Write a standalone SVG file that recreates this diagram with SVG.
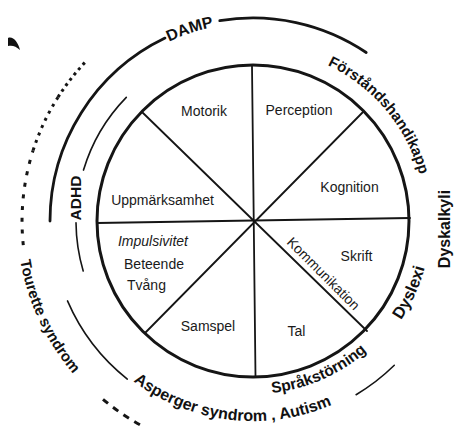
<svg xmlns="http://www.w3.org/2000/svg" xmlns:xlink="http://www.w3.org/1999/xlink" width="457" height="428" viewBox="0 0 457 428">
<style>
.ln{fill:none;stroke:#151515;stroke-linecap:round}
.main{stroke-width:3}
.spoke{stroke-width:1.8}
.outer{stroke-width:2.8}
.thin{stroke-width:1.6}
.dots{stroke-width:3;stroke-linecap:butt}
.in{font-family:"Liberation Sans",Arial,sans-serif;font-size:14px;fill:#1a1a1a;text-anchor:middle}
.lab{font-family:"Liberation Sans",Arial,sans-serif;font-weight:bold;fill:#111;text-anchor:middle}
</style>
<defs>
<path id="p-damp" d="M130.3,65.6 A198,198 0 0 1 258.9,23.1"/>
<path id="p-forst" d="M268.1,48.7 A173,173 0 0 1 425.3,236.1"/>
<path id="p-tour" d="M17.9,200.4 A236,236 0 0 0 117.6,414.3"/>
<path id="p-asp" d="M79.8,321 A200,200 0 0 0 398.1,358.7"/>
<path id="p-sprak" d="M193.8,383.6 A173,173 0 0 0 412.8,287.2"/>
<path id="p-dysl" d="M342,375.2 A178,178 0 0 0 427.7,187"/>
</defs>
<rect width="457" height="428" fill="#fff"/>

<g id="connectors">
<path class="ln outer" d="M50,221 A203,203 0 0 1 165,38.1"/>
<path class="ln outer" d="M219.8,20.7 A203,203 0 0 1 366.2,52.5"/>
<path class="ln thin" d="M83.5,170.1 A177,177 0 0 1 126.3,97.4"/>
<path class="ln thin" d="M83.2,271 A177,177 0 0 1 76,222.8"/>
<path class="ln thin" d="M67.5,300.9 A202,202 0 0 0 127.3,379.1"/>
<path class="ln thin" d="M356.1,394.7 A202,202 0 0 0 394.3,365.3"/>
<path class="ln dots" stroke-dasharray="4 7.7" d="M23.3,245.1 A231,231 0 0 1 33.1,150.4"/>
<path class="ln dots" stroke="#888" stroke-width="1.5" stroke-dasharray="3 5" d="M33.1,150.4 A231,231 0 0 1 58,97.2"/>
<path class="ln dots" stroke-dasharray="3 3.8" d="M58,97.2 A231,231 0 0 1 86.8,60.5"/>
<path class="ln dots" stroke-dasharray="6.5 6.3" d="M103,399.3 A233,233 0 0 0 140,424.8"/>
</g>

<g id="wheel">
<circle class="ln main" cx="253" cy="221" r="156"/>
<line class="ln spoke" x1="252" y1="66" x2="255.5" y2="377"/>
<line class="ln spoke" x1="97" y1="223" x2="410" y2="218"/>
<line class="ln spoke" x1="142" y1="112" x2="367" y2="331"/>
<line class="ln spoke" x1="363" y1="112" x2="145" y2="333"/>
</g>

<g id="sectors">
<text class="in" x="204" y="116">Motorik</text>
<text class="in" x="299" y="115">Perception</text>
<text class="in" x="349.5" y="192">Kognition</text>
<text class="in" x="162.5" y="205">Uppmärksamhet</text>
<text class="in" x="153" y="246" font-style="italic">Impulsivitet</text>
<text class="in" x="154" y="269">Beteende</text>
<text class="in" x="146.5" y="290">Tvång</text>
<text class="in" x="208" y="331">Samspel</text>
<text class="in" x="296.5" y="336" font-size="13">Tal</text>
<text class="in" x="356.5" y="261">Skrift</text>
<text class="in" font-size="13" transform="translate(320,277) rotate(45)">Kommunikation</text>
</g>

<g id="labels">
<text class="lab" font-size="16"><textPath href="#p-damp" xlink:href="#p-damp" startOffset="50%">DAMP</textPath></text>
<text class="lab" font-size="15"><textPath href="#p-forst" xlink:href="#p-forst" startOffset="50%">Förståndshandikapp</textPath></text>
<text class="lab" font-size="16" transform="translate(450,229) rotate(-90)">Dyskalkyli</text>
<text class="lab" font-size="16.5"><textPath href="#p-dysl" xlink:href="#p-dysl" startOffset="50%">Dyslexi</textPath></text>
<text class="lab" font-size="15.5"><textPath href="#p-sprak" xlink:href="#p-sprak" startOffset="50%">Språkstörning</textPath></text>
<text class="lab" font-size="16"><textPath href="#p-asp" xlink:href="#p-asp" startOffset="50%">Asperger syndrom , Autism</textPath></text>
<text class="lab" font-size="15"><textPath href="#p-tour" xlink:href="#p-tour" startOffset="50%">Tourette syndrom</textPath></text>
<text class="lab" font-size="15.5" transform="translate(81,198) rotate(-90)">ADHD</text>
</g>

<path id="mark" d="M8,38 C13,36 18,42 20,50 C16,46 12,45 8,46 Z" fill="#111"/>
</svg>
